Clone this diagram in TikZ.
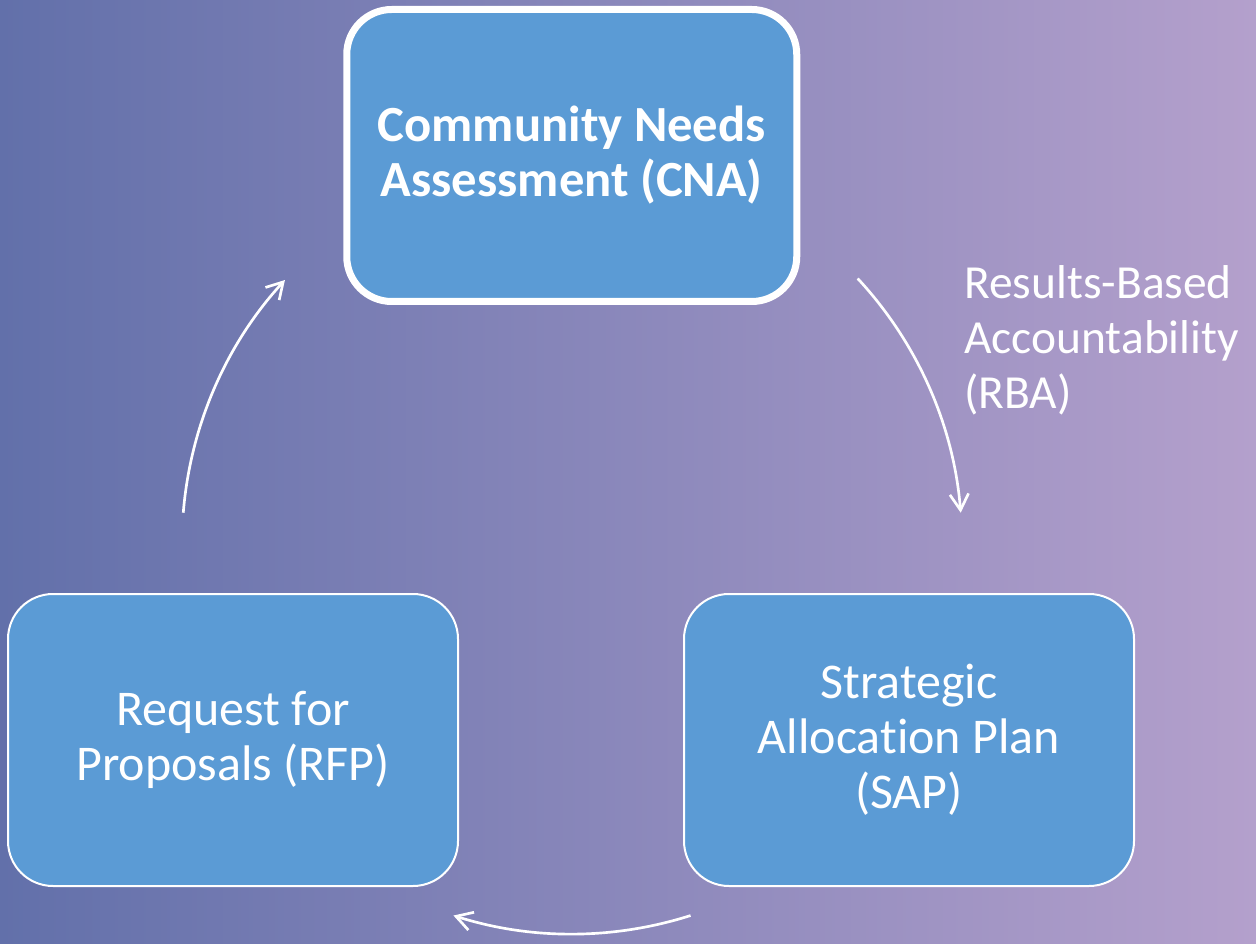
\documentclass[tikz,border=0pt]{standalone}
\usepackage{fontspec}
\setmainfont[Ligatures=NoCommon]{Carlito}
\usetikzlibrary{arrows.meta,calc}
\definecolor{bgleft}{RGB}{98,112,170}
\definecolor{bgright}{RGB}{180,160,204}
\definecolor{boxblue}{RGB}{91,155,213}
\begin{document}
\begin{tikzpicture}[x=0.75pt,y=0.75pt,
  stagebox/.style={draw=white, fill=boxblue, rounded corners=33.75pt,
    minimum width=337.5pt, minimum height=219pt, inner sep=0pt,
    text=white, align=center, line width=1.5pt,
    font=\fontsize{37.5}{41.25}\selectfont},
  cyclearrow/.style={draw=white, line width=2pt,
    -{Straight Barb[length=12pt, width=14pt, line width=2pt]}}]
% background gradient
\shade[left color=bgleft, right color=bgright] (0,0) rectangle (1256,-944);
\useasboundingbox (0,0) rectangle (1256,-944);

% the three stages
\node[stagebox, line width=5.25pt,
      font=\fontsize{38}{41.25}\selectfont\bfseries] (cna) at (571.75,-155.5)
  {Community Needs\\Assessment (CNA)};
\node[stagebox] (rfp) at (233,-740) {Request for\\Proposals (RFP)};
\node[stagebox] (sap) at (909,-740) {Strategic\\Allocation Plan\\(SAP)};

% label of the first step
\node[anchor=west, inner sep=0pt, align=left, text=white,
      font=\fontsize{35.6}{41.25}\selectfont] (rba) at (964,-340)
  {Results-Based\\Accountability\\(RBA)};

% cycle arrows on a common circle
\coordinate (hub) at (572,-544);
\coordinate (rbaStart) at ($(hub)+(42.9:292.5pt)$);
\coordinate (sapStart) at ($(hub)+(-72.3:292.5pt)$);
\coordinate (rfpStart) at ($(hub)+(175.4:292.5pt)$);
\draw[cyclearrow] (rbaStart) arc[start angle=42.9, end angle=4.6, radius=292.5pt];
\draw[cyclearrow] (sapStart) arc[start angle=-72.3, end angle=-107.7, radius=292.5pt];
\draw[cyclearrow] (rfpStart) arc[start angle=175.4, end angle=137.4, radius=292.5pt];
\end{tikzpicture}
\end{document}
